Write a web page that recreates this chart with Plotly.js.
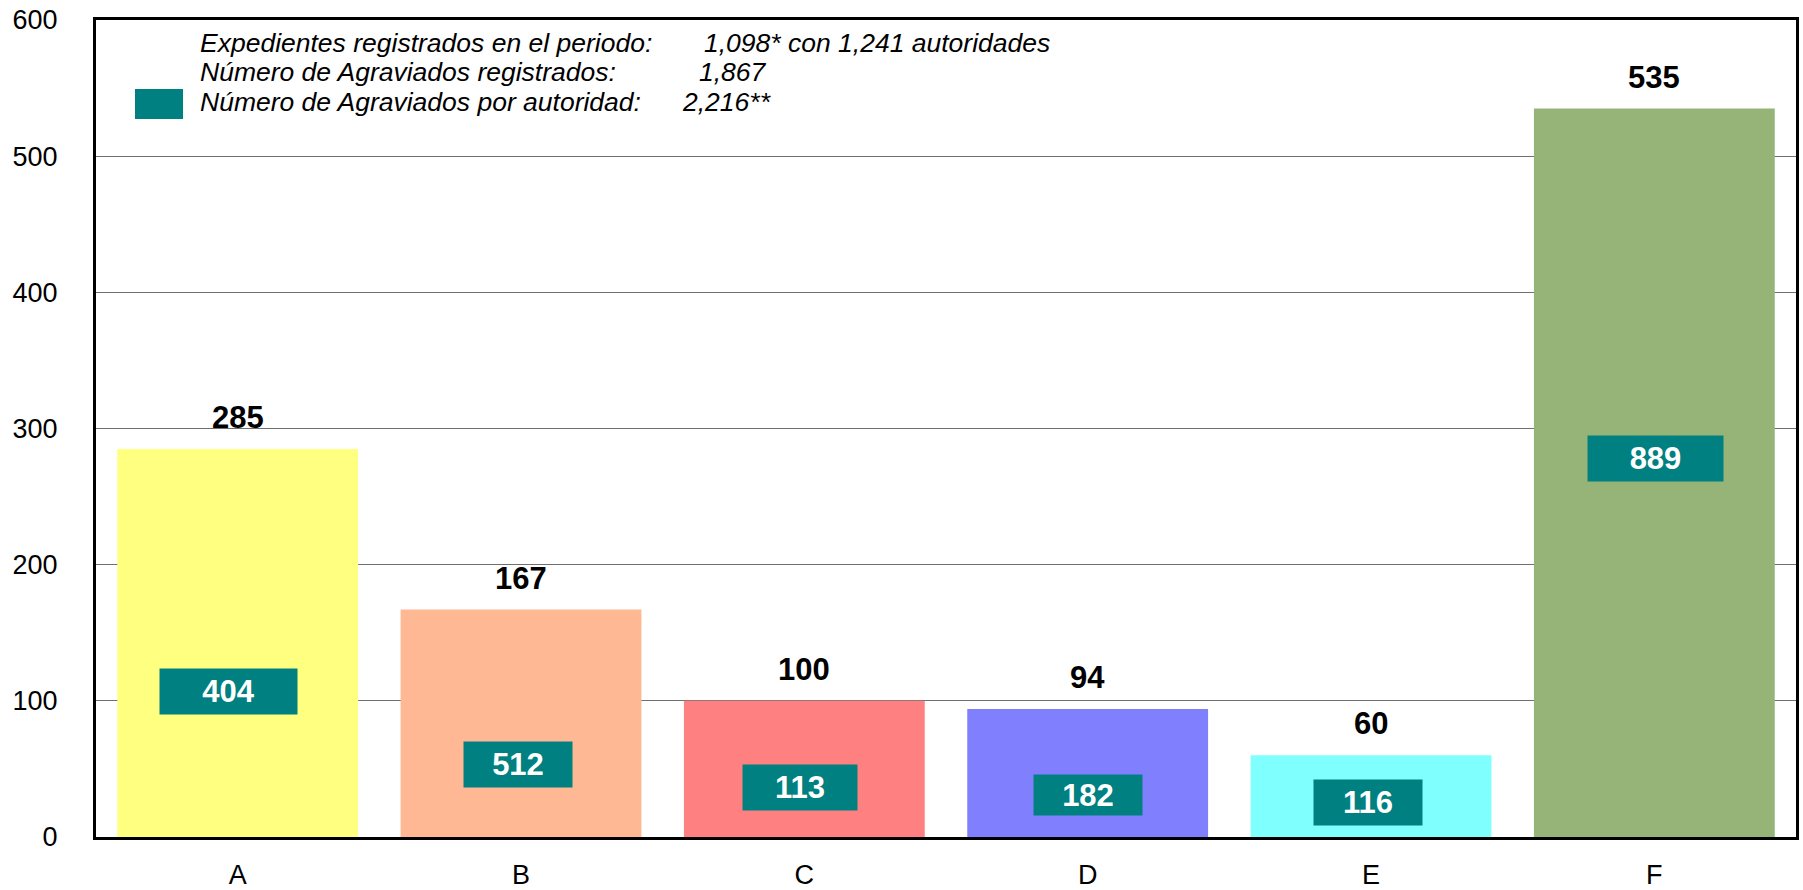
<!DOCTYPE html>
<html>
<head>
<meta charset="utf-8">
<script src="https://cdn.plot.ly/plotly-3.0.1.min.js"></script>
<style>html,body{margin:0;padding:0;background:#fff;}#chart{width:1803px;height:890px;}</style>
</head>
<body>
<div id="chart"></div>
<script>
// ---- data ----
const categories = ["A", "B", "C", "D", "E", "F"];
const expedientes = [285, 167, 100, 94, 60, 535];
const agraviados = [404, 512, 113, 182, 116, 889];
const barColors = ["#FFFF80", "#FFB894", "#FF8080", "#8080FF", "#80FFFF", "#96B478"];
const legendLabels = [
  "Expedientes registrados en el periodo:",
  "Número de Agraviados registrados:",
  "Número de Agraviados por autoridad:"
];
const legendValues = ["1,098* con 1,241 autoridades", "1,867", "2,216**"];

// ---- layout helpers (positions/styles) ----
const W = 1803, H = 890;
const M = {l: 96, r: 7, t: 20, b: 53};
const PW = W - M.l - M.r, PH = H - M.t - M.b;
const px = x => (x - M.l) / PW;
const py = y => (H - M.b - y) / PH;
const FONT = '"Liberation Sans", Arial, Helvetica, sans-serif';
const TEAL = "#008080";
// inner label box placement (y in axis units of box centre, box sizes in px)
const innerY = [107, 53, 36, 31, 25.4, 278];
const innerXShift = [-9, -3, -4, 0, -3, 1];
const innerW = [137, 108, 114, 108, 108, 135];
const innerH = [45, 45, 45, 40, 45, 45];

const trace = {
  type: "bar",
  x: categories,
  y: expedientes,
  marker: {color: barColors, line: {width: 0}},
  width: 0.85,
  hoverinfo: "none",
  showlegend: false
};

const annotations = [];
categories.forEach((c, i) => {
  annotations.push({
    x: c, y: expedientes[i], xref: "x", yref: "y",
    text: String(expedientes[i]),
    showarrow: false, yanchor: "bottom", yshift: 12,
    font: {family: FONT, size: 31, color: "#000", weight: "bold"}
  });
  annotations.push({
    x: c, y: innerY[i], xref: "x", yref: "y",
    text: String(agraviados[i]),
    showarrow: false, xanchor: "center", yanchor: "middle",
    xshift: innerXShift[i],
    width: innerW[i], height: innerH[i], borderpad: 0,
    bgcolor: TEAL,
    font: {family: FONT, size: 31, color: "#fff", weight: "bold"}
  });
});

const lineY = [43, 72, 102];
const valueX = [702, 697, 680];
legendLabels.forEach((t, i) => {
  annotations.push({
    x: px(198), y: py(lineY[i]), xref: "paper", yref: "paper",
    text: t, showarrow: false, xanchor: "left", yanchor: "middle",
    font: {family: FONT, size: 26.5, color: "#000", style: "italic"}
  });
  annotations.push({
    x: px(valueX[i]), y: py(lineY[i]), xref: "paper", yref: "paper",
    text: legendValues[i], showarrow: false, xanchor: "left", yanchor: "middle",
    font: {family: FONT, size: 26.5, color: "#000", style: "italic"}
  });
});

const layout = {
  width: W, height: H,
  margin: M,
  paper_bgcolor: "#fff",
  plot_bgcolor: "#fff",
  bargap: 0.15,
  font: {family: FONT, color: "#000"},
  xaxis: {
    type: "category",
    showline: true, linecolor: "#000", linewidth: 3, mirror: true,
    showgrid: false, zeroline: false, ticks: "",
    tickfont: {family: FONT, size: 27, color: "#000"},
    ticklabelstandoff: 12,
    fixedrange: true
  },
  yaxis: {
    range: [0, 600], dtick: 100, tick0: 0,
    showline: true, linecolor: "#000", linewidth: 3, mirror: true,
    showgrid: true, gridcolor: "#707070", gridwidth: 1,
    zeroline: false, ticks: "",
    tickfont: {family: FONT, size: 27, color: "#000"},
    ticklabelstandoff: 30,
    fixedrange: true
  },
  shapes: [{
    type: "rect", xref: "paper", yref: "paper",
    x0: px(135), x1: px(183), y0: py(119), y1: py(89),
    fillcolor: TEAL, line: {width: 0}
  }],
  annotations: annotations
};

Plotly.newPlot("chart", [trace], layout, {displayModeBar: false, staticPlot: true});
</script>
</body>
</html>
